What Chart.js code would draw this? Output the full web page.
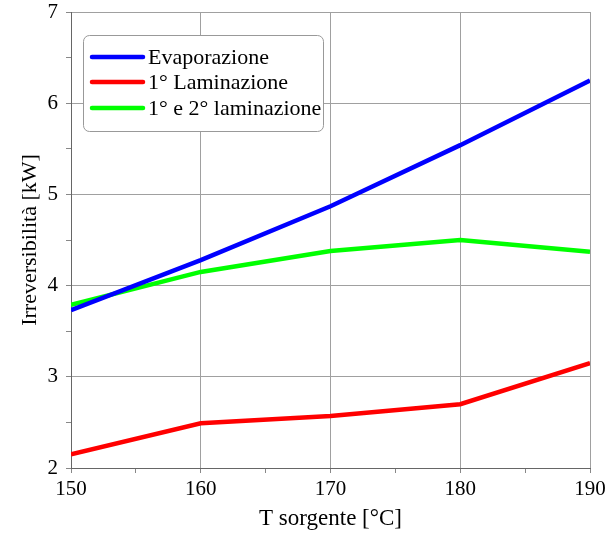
<!DOCTYPE html>
<html>
<head>
<meta charset="utf-8">
<script src="https://cdn.jsdelivr.net/npm/chart.js@4/dist/chart.umd.min.js"></script>
<style>
html,body{margin:0;padding:0;background:#fff;}
#wrap{width:608px;height:538px;}
</style>
</head>
<body>
<div id="wrap"><canvas id="c" width="608" height="538"></canvas></div>
<script>
const temps = [150, 160, 170, 180, 190];
const evaporazione = [3.73, 4.28, 4.87, 5.54, 6.25];
const laminazione1 = [2.15, 2.49, 2.57, 2.70, 3.15];
const laminazione12 = [3.79, 4.15, 4.38, 4.50, 4.37];
const seriesLabels = ['Evaporazione', '1° Laminazione', '1° e 2° laminazione'];
const seriesColors = ['#0000ff', '#ff0000', '#00ff00'];
const xTitle = 'T sorgente [°C]';
const yTitle = 'Irreversibilità [kW]';
const FONT = "'Liberation Serif', 'DejaVu Serif', serif";

function pts(arr){ return temps.map((t,i)=>({x:t,y:arr[i]})); }

const legendBox = {
  id:'legendBox',
  afterDraw(chart){
    const ctx = chart.ctx;
    const x0 = 83, y0 = 35, w = 240, h = 96, r = 6;
    ctx.save();
    ctx.fillStyle = '#fff';
    ctx.strokeStyle = '#999';
    ctx.lineWidth = 1;
    ctx.beginPath();
    ctx.roundRect(x0+0.5, y0+0.5, w, h, r);
    ctx.fill();
    ctx.stroke();
    const ys = [57, 82, 108];
    ctx.font = "22px " + FONT;
    ctx.textBaseline = 'middle';
    chart.data.datasets.forEach((ds,i)=>{
      ctx.strokeStyle = ds.borderColor;
      ctx.lineWidth = 4.5;
      ctx.lineCap = 'round';
      ctx.beginPath();
      ctx.moveTo(92, ys[i]);
      ctx.lineTo(143, ys[i]);
      ctx.stroke();
      ctx.fillStyle = '#000';
      ctx.fillText(ds.label, 148, ys[i]+1);
    });
    ctx.restore();
  }
};

new Chart(document.getElementById('c'), {
  type: 'line',
  data: {
    datasets: [
      {label: seriesLabels[0], data: pts(evaporazione), borderColor: seriesColors[0]},
      {label: seriesLabels[1], data: pts(laminazione1), borderColor: seriesColors[1]},
      {label: seriesLabels[2], data: pts(laminazione12), borderColor: seriesColors[2]}
    ]
  },
  options: {
    responsive: false,
    animation: false,
    devicePixelRatio: 1,
    layout: {padding: {top: 12, right: 18, left: 0, bottom: 0}},
    elements: {
      line: {borderWidth: 4.5, tension: 0, fill: false},
      point: {radius: 0, hoverRadius: 0}
    },
    plugins: {legend: {display: false}, tooltip: {enabled: false}},
    scales: {
      x: {
        type: 'linear', min: 150, max: 190,
        afterFit(s){ s.height = 70; s.paddingLeft = 0; s.paddingRight = 0; },
        ticks: {
          stepSize: 5, color: '#000', padding: 4, maxRotation: 0,
          font: {family: FONT, size: 21},
          callback: v => (v % 10 === 0 ? String(v) : '')
        },
        grid: {
          color: ctx => (ctx.tick && ctx.tick.value % 10 === 0 ? '#a0a0a0' : 'rgba(0,0,0,0)'),
          tickColor: '#888', tickLength: 5, drawOnChartArea: true
        },
        border: {color: '#666', width: 1},
        title: {display: true, text: xTitle, color: '#000', font: {family: FONT, size: 23}, padding: {top: 0, bottom: 5}}
      },
      y: {
        type: 'linear', min: 2, max: 7,
        afterFit(s){ s.width = 71; s.paddingTop = 0; s.paddingBottom = 0; },
        ticks: {
          stepSize: 0.5, color: '#000', padding: 8,
          font: {family: FONT, size: 21},
          callback: v => (Number.isInteger(v) ? String(v) : '')
        },
        grid: {
          color: ctx => (ctx.tick && Number.isInteger(ctx.tick.value) ? '#a0a0a0' : 'rgba(0,0,0,0)'),
          tickColor: '#888', tickLength: 5
        },
        border: {color: '#666', width: 1},
        title: {display: true, text: yTitle, color: '#000', font: {family: FONT, size: 22}, padding: {top: 17, bottom: 0}}
      }
    }
  },
  plugins: [legendBox]
});
</script>
</body>
</html>
